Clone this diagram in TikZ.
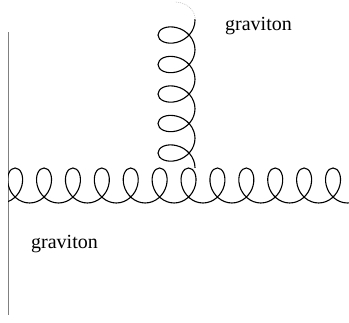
\documentclass[tikz,border=0pt]{standalone}
\usepackage{fontspec}
\setmainfont{Liberation Serif}
\usepackage{tikz}
\usetikzlibrary{decorations.pathmorphing}
\tikzset{
  grav/.style 2 args={decorate, draw=black, line width=1.1pt,
              decoration={coil, amplitude=#1pt, segment length=#2pt, aspect=0.8}},
  tail/.style={draw=gray!55, line width=0.5pt, dash pattern=on 1pt off 1pt},
  wall/.style={draw=gray, line width=1pt},
  lbl/.style={anchor=base west, inner sep=0pt, font=\fontsize{20}{24}\selectfont}
}

\begin{document}
\begin{tikzpicture}[x=1pt, y=-1pt]
  \useasboundingbox (0,0) rectangle (349,323);
  % end points
  \coordinate (hin) at (397.6,185.5);
  \coordinate (hout) at (-40,185.5);
  \coordinate (vin) at (176.5,-31.4);
  \coordinate (vout) at (176.5,230);
  \coordinate (vtop) at (195.3,20);
  \coordinate (vtail) at (175,2);
  \coordinate (wtop) at (8,32);
  \coordinate (wbot) at (8,315);

  \draw[wall] (wtop) -- (wbot);

  % horizontal graviton
  \begin{scope}
    \clip (8,140) rectangle (349,220);
    \draw[grav={17.5}{28.9}] (hin) -- (hout);
  \end{scope}

  % vertical graviton
  \begin{scope}
    \clip (140,20) rectangle (220,168);
    \draw[grav={18.5}{29.5}] (vin) -- (vout);
  \end{scope}
  \draw[tail] (vtop) to[out=90,in=0] (vtail);

  \node[lbl] (gup) at (225,31) {graviton};
  \node[lbl] (gdown) at (31,249) {graviton};
\end{tikzpicture}
\end{document}
